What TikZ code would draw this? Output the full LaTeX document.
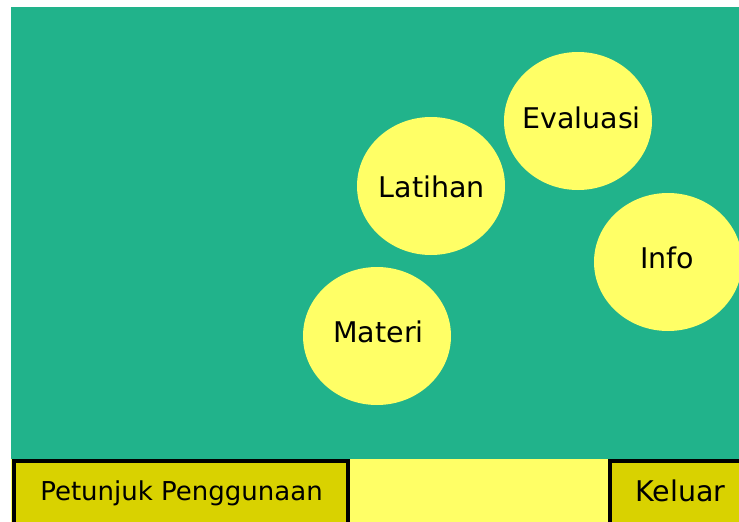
\documentclass[tikz,border=0pt]{standalone}
\usepackage{fontspec}
\setmainfont{DejaVu Sans}
\usetikzlibrary{shapes.geometric}
\definecolor{bggreen}{HTML}{21B38B}
\definecolor{bubble}{HTML}{FFFF66}
\definecolor{btnfill}{HTML}{D9D200}
\tikzset{
  menu/.style={ellipse, fill=bubble, minimum width=148pt, minimum height=138pt, inner sep=0pt},
  menulabel/.style={anchor=base, inner sep=0pt, font=\fontsize{28.5}{30}\selectfont},
  btn/.style={draw=black, line width=4pt, fill=btnfill}
}
\begin{document}
\begin{tikzpicture}[x=1pt,y=-1pt]
  \useasboundingbox (0,0) rectangle (739,522);
  \clip (0,0) rectangle (739,522);
  % background panels
  \fill[bggreen] (11,7) rectangle (739,459);
  \fill[bubble] (11,459) rectangle (739,522);
  % menu bubbles
  \node[menu] (materi) at (377,336) {};
  \node[menu] (latihan) at (431,186) {};
  \node[menu] (evaluasi) at (578,121) {};
  \node[menu] (info) at (668,262) {};
  \node[menulabel] (materilbl) at (378.5,342) {Materi};
  \node[menulabel] (latihanlbl) at (432,197) {Latihan};
  \node[menulabel] (evaluasilbl) at (581.5,128) {Evaluasi};
  \node[menulabel] (infolbl) at (667,268) {Info};
  % bottom buttons
  \draw[btn] (14,461) rectangle (348,530);
  \node[menulabel, font=\fontsize{26}{28}\selectfont] (petunjuk) at (181.5,500) {Petunjuk Penggunaan};
  \draw[btn] (610,461.3) rectangle (760,530);
  \node[menulabel] (keluar) at (680.5,501) {Keluar};
\end{tikzpicture}
\end{document}
